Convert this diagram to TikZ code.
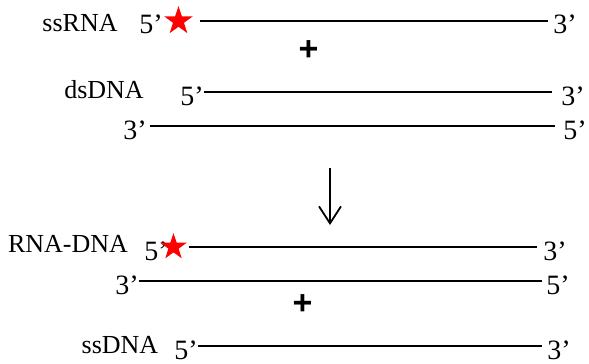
\documentclass[tikz,border=0pt]{standalone}
\usepackage{fontspec}
\setmainfont{Liberation Serif}
\setsansfont{Liberation Sans}
\usepackage{tikz}
\usetikzlibrary{shapes.geometric,arrows.meta}

\begin{document}
\begin{tikzpicture}[x=1pt,y=-1pt,
			strand/.style={line width=1.8pt},
			prime/.style={font=\fontsize{28}{28}\selectfont,text height=26pt,text depth=0pt,inner sep=0pt},
			mol/.style={font=\fontsize{26}{26}\selectfont,anchor=base,inner sep=0pt},
			redstar/.style={star,star points=5,star point ratio=2.6,fill=red,draw=none,inner sep=0pt,minimum size=30pt},
			plus/.style={font=\sffamily\bfseries\fontsize{34}{34}\selectfont,inner sep=0pt}]
			\useasboundingbox (0,0) rectangle (589,364);
			% ssRNA
			\node[mol] (ssrna) at (80,31) {ssRNA};
			\node[prime] (a5) at (151,20) {5'};
			\node[redstar] (astar) at (178.5,21) {};
			\node[prime] (a3) at (565,21) {3'};
			\node[plus] (plusa) at (308.5,51) {+};
			% dsDNA
			\node[mol] (dsdna) at (104,98) {dsDNA};
			\node[prime] (b5) at (192,92) {5'};
			\node[prime] (b3) at (573,92) {3'};
			\node[prime] (c3) at (135,126) {3'};
			\node[prime] (c5) at (575,126) {5'};
			% reaction
			\coordinate (top) at (330,168);
			\coordinate (tip) at (330,225);
			% RNA-DNA hybrid
			\node[mol] (hybrid) at (68,252) {RNA-DNA};
			\node[prime] (d5) at (156,247) {5'};
			\node[redstar,minimum size=28pt] (dstar) at (173.5,247) {};
			\node[prime] (d3) at (555,247) {3'};
			\node[prime] (e3) at (127,281) {3'};
			\node[prime] (e5) at (558,281) {5'};
			\node[plus] (plusb) at (302.5,305) {+};
			% ssDNA
			\node[mol] (ssdna) at (120,353) {ssDNA};
			\node[prime] (f5) at (186,346) {5'};
			\node[prime] (f3) at (559,346) {3'};
			\path[strand] (astar) edge [shorten <=13pt,shorten >=5pt] (a3)
			(b5) edge [shorten >=9pt] (b3)
			(c3) edge [shorten <=3pt,shorten >=8pt] (c5)
			(dstar) edge [shorten <=8pt,shorten >=6pt] (d3)
			(e3) edge [shorten >=4pt] (e5)
			(f5) edge [shorten >=5pt] (f3);
			\draw[line width=1.8pt,-{Straight Barb[length=17pt,width=22pt,line width=1.8pt]}] (top) -- (tip);
		\end{tikzpicture}
\end{document}
